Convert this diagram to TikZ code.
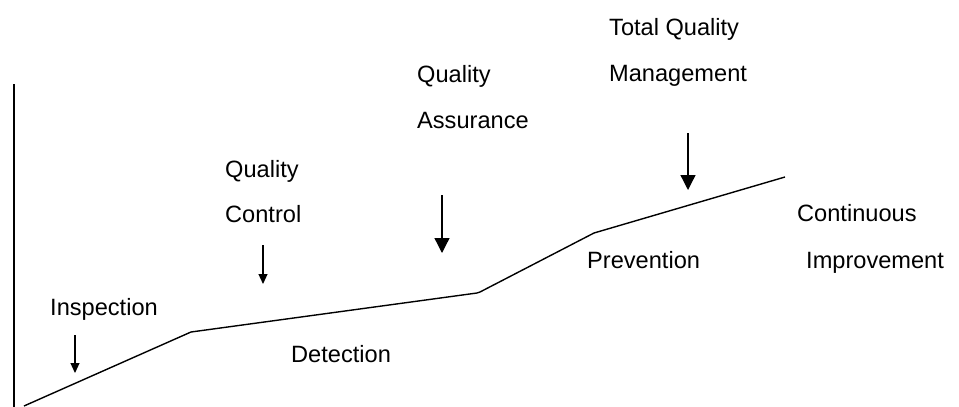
\documentclass[tikz,border=0pt]{standalone}
\usepackage{fontspec}
\setmainfont{Liberation Sans}
\usetikzlibrary{arrows.meta}
\begin{document}
\begin{tikzpicture}[x=1pt,y=-1pt,
  lbl/.style={anchor=base west,inner sep=0pt,font=\fontsize{23.6}{28}\selectfont},
  curve/.style={line width=1.4pt,line join=miter},
  smallarrow/.style={line width=1.2pt,-{Triangle[length=10pt,width=9pt]}},
  bigarrow/.style={line width=1.3pt,-{Triangle[length=15pt,width=15pt]}}]
\useasboundingbox (0,0) rectangle (959,407);
% axis
\coordinate (ax1) at (14,84);
\coordinate (ax2) at (14,407);
\draw[line width=1.5pt] (ax1) -- (ax2);
% progression line
\coordinate (p0) at (24,406);
\coordinate (p1) at (191,332);
\coordinate (p2) at (477,293);
\coordinate (p2b) at (480,292);
\coordinate (p3) at (594,233);
\coordinate (p4) at (785,177);
\draw[curve] (p0) -- (p1) -- (p2) -- (p2b) -- (p3) -- (p4);
% labels
\node[lbl] (insp) at (50,315) {Inspection};
\node[lbl] (qc1) at (225,177) {Quality};
\node[lbl] (qc2) at (225,222) {Control};
\node[lbl] (qa1) at (417,82) {Quality};
\node[lbl] (qa2) at (417,128) {Assurance};
\node[lbl] (tqm1) at (609,35) {Total Quality};
\node[lbl] (tqm2) at (609,81) {Management};
\node[lbl] (ci1) at (797,221) {Continuous};
\node[lbl] (ci2) at (806,268) {Improvement};
\node[lbl] (prev) at (587,268) {Prevention};
\node[lbl] (det) at (291,362) {Detection};
% arrows
\coordinate (a1s) at (75,335); \coordinate (a1e) at (75,373);
\coordinate (a2s) at (263,245); \coordinate (a2e) at (263,284);
\coordinate (a3s) at (442,195); \coordinate (a3e) at (442,253);
\coordinate (a4s) at (688,133); \coordinate (a4e) at (688,190);
\draw[smallarrow] (a1s) -- (a1e);
\draw[smallarrow] (a2s) -- (a2e);
\draw[bigarrow] (a3s) -- (a3e);
\draw[bigarrow] (a4s) -- (a4e);
\end{tikzpicture}
\end{document}
